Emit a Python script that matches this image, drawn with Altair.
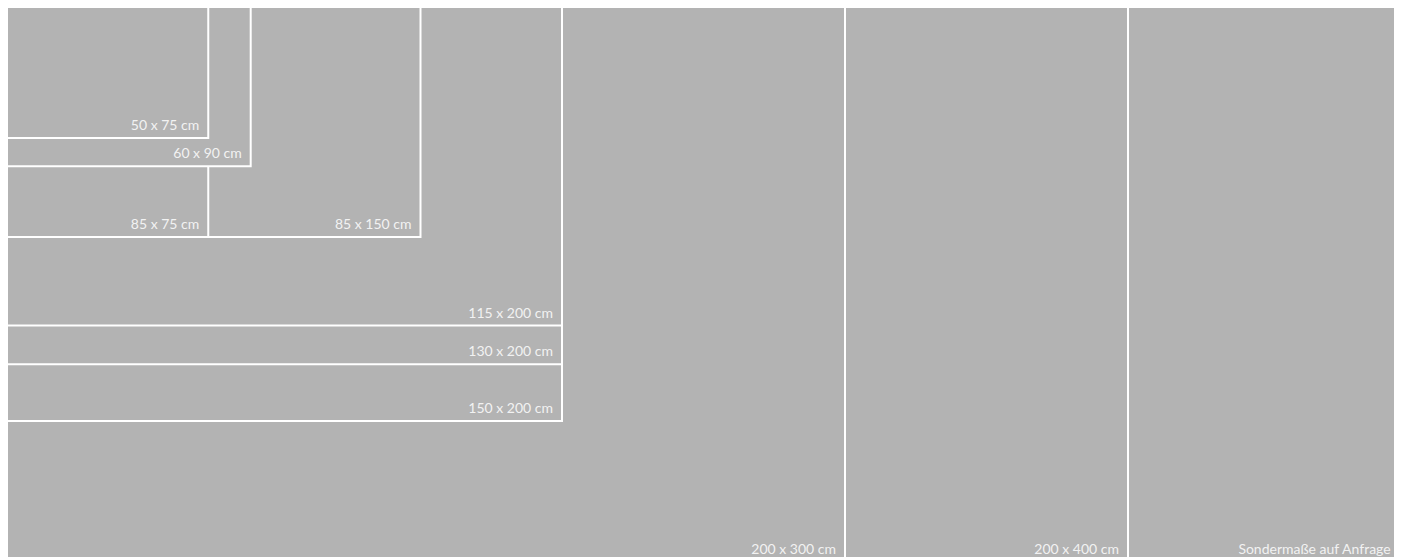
import altair as alt
import pandas as pd

# rug sizes: height (cm) x width (cm), label (heights/widths as drawn in the picture)
labels = ["Sondermaße auf Anfrage", "200 x 400 cm", "200 x 300 cm", "150 x 200 cm",
          "130 x 200 cm", "115 x 200 cm", "85 x 150 cm", "85 x 75 cm", "60 x 90 cm", "50 x 75 cm"]
heights_cm = [200, 200, 200, 150, 130, 116.3, 85, 85, 60, 50]
widths_cm = [496, 400, 300, 200, 200, 200, 150, 75, 90, 75]

df = pd.DataFrame({
    "label": labels,
    "h": heights_cm,
    "w": widths_cm,
    "zero": [0] * len(labels),
    "order": list(range(len(labels))),
})

PX_PER_CM = 2.83
W = 1386
H = 549
x0 = 4.24
y0 = 4.1
xs = alt.Scale(domain=[x0, x0 + W / PX_PER_CM], nice=False, zero=False)
ys = alt.Scale(domain=[y0, y0 + H / PX_PER_CM], nice=False, zero=False, reverse=True)

base = alt.Chart(df)

rects = base.mark_rect(color="#b3b3b3", stroke="white", strokeWidth=2, clip=True).encode(
    x=alt.X("zero:Q", scale=xs, axis=None),
    x2="w:Q",
    y=alt.Y("zero:Q", scale=ys, axis=None),
    y2="h:Q",
    order=alt.Order("order:Q"),
)

texts = base.mark_text(align="right", baseline="alphabetic", dx=-9, dy=-8,
                       font="Lato", fontSize=14, color="#f2f2f2", clip=True).encode(
    x=alt.X("w:Q", scale=xs, axis=None),
    y=alt.Y("h:Q", scale=ys, axis=None),
    text="label:N",
)

chart = (rects + texts).properties(
    width=W, height=H, padding=0,
    autosize=alt.AutoSizeParams(type="fit", contains="padding"),
).configure_view(stroke=None)

chart.save("out.html", embed_options={"renderer": "svg", "actions": False})
